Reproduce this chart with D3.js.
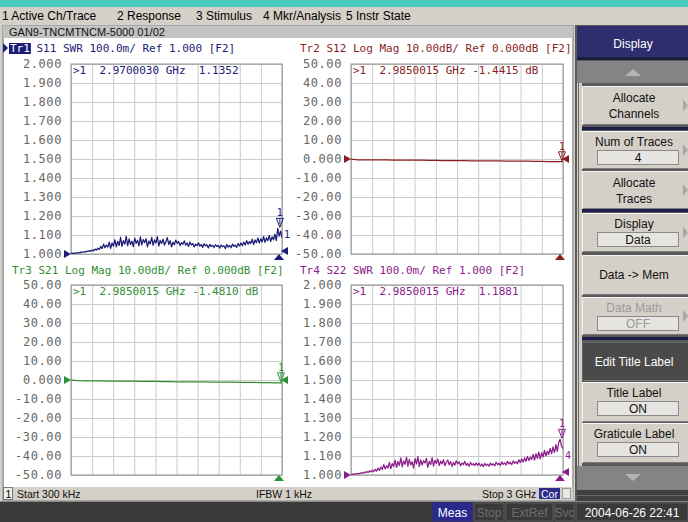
<!DOCTYPE html>
<html>
<head>
<meta charset="utf-8">
<script src="https://cdn.jsdelivr.net/npm/d3@7"></script>
<style>
	html, body { margin: 0; padding: 0; background: #d4d0c8; overflow: hidden; }
	svg { display: block; }
</style>
</head>
<body>
<div id="chart"></div>
<script>
// ---- data ----
let startHz		= 300e3;
let stopHz		= 3e9;

let menuItems	= ['1 Active Ch/Trace', '2 Response', '3 Stimulus', '4 Mkr/Analysis', '5 Instr State'];
let windowTitle	= 'GAN9-TNCMTNCM-5000 01/02';

let traceNames	= ['Tr1', 'Tr2', 'Tr3', 'Tr4'];
let traceHeads	= [' S11 SWR 100.0m/ Ref 1.000 [F2]', ' S12 Log Mag 10.00dB/ Ref 0.000dB [F2]', ' S21 Log Mag 10.00dB/ Ref 0.000dB [F2]', ' S22 SWR 100.0m/ Ref 1.000 [F2]'];
let markerHz	= [2.9700030e9, 2.9850015e9, 2.9850015e9, 2.9850015e9];
let markerVals	= [1.1352, -1.4415, -1.4810, 1.1881];
let markerText	= ['>1  2.9700030 GHz  1.1352', '>1  2.9850015 GHz -1.4415 dB', '>1  2.9850015 GHz -1.4810 dB', '>1  2.9850015 GHz  1.1881'];

let swrTicks		= [2.0, 1.9, 1.8, 1.7, 1.6, 1.5, 1.4, 1.3, 1.2, 1.1, 1.0];
let swrTickLabels	= ['2.000', '1.900', '1.800', '1.700', '1.600', '1.500', '1.400', '1.300', '1.200', '1.100', '1.000'];
let dbTicks			= [50, 40, 30, 20, 10, 0, -10, -20, -30, -40, -50];
let dbTickLabels	= ['50.00', '40.00', '30.00', '20.00', '10.00', '0.000', '-10.00', '-20.00', '-30.00', '-40.00', '-50.00'];

let s11Swr = [
	1.003, 1.004, 1.002, 1.006, 1.005, 1.008, 1.006, 1.010, 1.009, 1.012, 1.010, 1.015, 1.013, 1.018, 1.014,
	1.022, 1.017, 1.026, 1.020, 1.031, 1.024, 1.040, 1.028, 1.052, 1.033, 1.047, 1.036, 1.062, 1.030, 1.058,
	1.041, 1.075, 1.038, 1.066, 1.045, 1.088, 1.040, 1.070, 1.052, 1.093, 1.044, 1.079, 1.050, 1.067, 1.039,
	1.084, 1.056, 1.072, 1.043, 1.090, 1.048, 1.076, 1.060, 1.081, 1.037, 1.069, 1.053, 1.087, 1.045, 1.074,
	1.058, 1.091, 1.042, 1.071, 1.055, 1.078, 1.047, 1.064, 1.086, 1.051, 1.070, 1.038, 1.062, 1.049, 1.073,
	1.056, 1.066, 1.044, 1.060, 1.051, 1.069, 1.046, 1.058, 1.040, 1.063, 1.048, 1.055, 1.037, 1.052, 1.044,
	1.059, 1.041, 1.050, 1.035, 1.054, 1.043, 1.048, 1.032, 1.051, 1.039, 1.046, 1.034, 1.049, 1.040, 1.044,
	1.031, 1.047, 1.038, 1.043, 1.029, 1.050, 1.036, 1.045, 1.033, 1.052, 1.040, 1.047, 1.035, 1.055, 1.042,
	1.058, 1.044, 1.063, 1.047, 1.070, 1.051, 1.066, 1.055, 1.078, 1.050, 1.074, 1.060, 1.085, 1.057, 1.080,
	1.064, 1.092, 1.061, 1.085, 1.070, 1.098, 1.066, 1.090, 1.075, 1.104, 1.071, 1.135, 1.094, 1.120, 1.085
];
let s22Swr = [
	1.002, 1.004, 1.003, 1.007, 1.005, 1.009, 1.006, 1.012, 1.008, 1.015, 1.011, 1.019, 1.013, 1.022, 1.016,
	1.026, 1.018, 1.030, 1.021, 1.036, 1.024, 1.042, 1.029, 1.055, 1.032, 1.048, 1.037, 1.066, 1.034, 1.060,
	1.045, 1.078, 1.040, 1.071, 1.050, 1.090, 1.043, 1.074, 1.056, 1.094, 1.047, 1.082, 1.053, 1.070, 1.036,
	1.086, 1.058, 1.097, 1.044, 1.080, 1.052, 1.075, 1.063, 1.088, 1.040, 1.072, 1.055, 1.092, 1.047, 1.077,
	1.061, 1.084, 1.050, 1.073, 1.058, 1.081, 1.049, 1.067, 1.079, 1.054, 1.071, 1.045, 1.066, 1.052, 1.075,
	1.058, 1.069, 1.048, 1.063, 1.055, 1.072, 1.050, 1.061, 1.046, 1.066, 1.053, 1.060, 1.049, 1.064, 1.051,
	1.062, 1.047, 1.058, 1.044, 1.061, 1.050, 1.057, 1.046, 1.063, 1.052, 1.059, 1.048, 1.067, 1.054, 1.062,
	1.050, 1.069, 1.056, 1.064, 1.053, 1.072, 1.058, 1.067, 1.055, 1.074, 1.061, 1.070, 1.059, 1.080, 1.066,
	1.084, 1.068, 1.090, 1.072, 1.098, 1.076, 1.094, 1.082, 1.108, 1.079, 1.112, 1.088, 1.121, 1.085, 1.117,
	1.095, 1.130, 1.100, 1.125, 1.108, 1.140, 1.112, 1.148, 1.118, 1.160, 1.125, 1.172, 1.188, 1.150, 1.140
];
let s12Db = [
	-0.10, -0.40, -0.45, -0.48, -0.50, -0.52, -0.55, -0.57, -0.60, -0.62, -0.64, -0.66, -0.72, -0.85, -0.88, -0.90,
	-0.92, -0.95, -0.97, -1.00, -1.02, -1.05, -1.08, -1.10, -1.14, -1.18, -1.22, -1.28, -1.35, -1.44, -1.40
];
let s21Db = [
	-0.05, -0.38, -0.44, -0.47, -0.50, -0.53, -0.55, -0.58, -0.61, -0.63, -0.66, -0.68, -0.70, -0.88, -0.91, -0.93,
	-0.95, -0.98, -1.00, -1.03, -1.06, -1.09, -1.12, -1.15, -1.19, -1.23, -1.28, -1.33, -1.40, -1.48, -1.45
];

let softkeyLabels	= [['Allocate', 'Channels'], ['Num of Traces'], ['Allocate', 'Traces'], ['Display'], ['Data -> Mem'], ['Data Math'], ['Edit Title Label'], ['Title Label'], ['Graticule Label']];
let softkeyValues	= [null, '4', null, 'Data', null, 'OFF', null, 'ON', 'ON'];
let chanStatus		= ['Start 300 kHz', 'IFBW 1 kHz', 'Stop 3 GHz'];
let instrStatus		= ['Meas', 'Stop', 'ExtRef', 'Svc', '2004-06-26 22:41'];

// ---- look ----
let uiFont		= '"Liberation Sans", Arial, sans-serif';
let monoFont	= '"DejaVu Sans Mono", monospace';
let colors		= ['#1c1c78', '#8a1e1e', '#2f8f33', '#8c1c8c'];
let charW		= 6.62;

let svg = d3.select('#chart').append('svg')
	.attr('width', 688)
	.attr('height', 522);

// frame
svg.append('rect').attr('width', 688).attr('height', 522).attr('fill', '#d4d0c8');
svg.append('rect').attr('width', 688).attr('height', 7).attr('fill', '#4ac8c0');

let menuX = [2, 117, 196, 263, 346];
svg.append('g').selectAll('text').data(menuItems).enter().append('text')
	.attr('x', (d, i) => menuX[i])
	.attr('y', 20)
	.style('font', '12px ' + uiFont)
	.attr('fill', '#000')
	.text(d => d);

// channel window
svg.append('rect').attr('x', 2).attr('y', 25).attr('width', 572).attr('height', 476).attr('fill', '#a8a8a8');
svg.append('rect').attr('x', 3).attr('y', 26).attr('width', 570).attr('height', 12).attr('fill', '#c2c2c2');
svg.append('text').attr('x', 9).attr('y', 35.5)
	.style('font', '11px ' + uiFont).attr('fill', '#111').text(windowTitle);
svg.append('rect').attr('x', 4).attr('y', 38).attr('width', 568).attr('height', 449).attr('fill', '#fff');

// ---- trace panes ----
let panes = [
	{ x0: 71,  x1: 282, y0: 64,  y1: 254, hx: 10,  hy: 52,  domain: [1, 2],    ticks: swrTicks, labels: swrTickLabels, data: s11Swr, ref: 1, tag: '1' },
	{ x0: 351, x1: 563, y0: 64,  y1: 254, hx: 300, hy: 52,  domain: [-50, 50], ticks: dbTicks,  labels: dbTickLabels,  data: s12Db,  ref: 0 },
	{ x0: 71,  x1: 282, y0: 285, y1: 475, hx: 12,  hy: 274, domain: [-50, 50], ticks: dbTicks,  labels: dbTickLabels,  data: s21Db,  ref: 0 },
	{ x0: 351, x1: 563, y0: 285, y1: 475, hx: 300, hy: 274, domain: [1, 2],    ticks: swrTicks, labels: swrTickLabels, data: s22Swr, ref: 1, tag: '4' }
];

let defs = svg.append('defs');

panes.forEach((p, k) => {
	let col	= colors[k];
	let w	= p.x1 - p.x0;
	let h	= p.y1 - p.y0;
	let n	= p.data.length;

	let x = d3.scaleLinear().domain([startHz, stopHz]).range([p.x0, p.x1]);
	let y = d3.scaleLinear().domain(p.domain).range([p.y1, p.y0]);
	let sweep = (i) => startHz + i * (stopHz - startHz) / (n - 1);

	let g = svg.append('g').attr('class', 'pane');

	// graticule
	let xGrid = d3.range(11).map(i => startHz + i * (stopHz - startHz) / 10);
	g.append('g')
		.attr('transform', 'translate(0,' + p.y1 + ')')
		.call(d3.axisBottom(x).tickValues(xGrid).tickSize(-h).tickFormat(''))
		.call(a => a.select('.domain').remove())
		.call(a => a.selectAll('line').attr('stroke', '#cbcbcb'));

	g.append('g')
		.attr('transform', 'translate(' + p.x0 + ',0)')
		.call(d3.axisLeft(y).tickValues(p.ticks).tickSize(-w).tickPadding(9).tickFormat((d, i) => p.labels[i]))
		.call(a => a.select('.domain').remove())
		.call(a => a.selectAll('line').attr('stroke', '#cbcbcb'))
		.call(a => a.selectAll('text')
			.attr('fill', '#666')
			.style('font', '12px ' + monoFont)
			.style('letter-spacing', '0.6px'));

	g.append('rect')
		.attr('x', p.x0).attr('y', p.y0)
		.attr('width', w).attr('height', h)
		.attr('fill', 'none').attr('stroke', '#8e8e8e');

	// header
	if (k === 0) {
		g.append('rect')
			.attr('x', p.hx - 1).attr('y', p.hy - 9)
			.attr('width', charW * 3 + 2).attr('height', 11)
			.attr('fill', '#1c1c78');
		g.append('path')
			.attr('d', 'M' + (p.hx - 7) + ',' + (p.hy - 9) + 'L' + (p.hx - 2) + ',' + (p.hy - 4) + 'L' + (p.hx - 7) + ',' + (p.hy + 1) + 'Z')
			.attr('fill', '#1c1c78');
	}
	let head = g.append('text')
		.attr('x', p.hx).attr('y', p.hy)
		.style('font', '11px ' + monoFont)
		.attr('fill', col);
	head.append('tspan').attr('fill', k === 0 ? '#fff' : col).text(traceNames[k]);
	head.append('tspan').text(traceHeads[k]);

	// marker readout
	g.append('text')
		.attr('x', p.x0 + 2).attr('y', p.y0 + 10)
		.style('font', '11px ' + monoFont)
		.style('white-space', 'pre')
		.attr('fill', col)
		.text(markerText[k]);

	// trace
	defs.append('clipPath').attr('id', 'clip' + k)
		.append('rect').attr('x', p.x0).attr('y', p.y0).attr('width', w).attr('height', h);

	let line = d3.line()
		.x((d, i) => x(sweep(i)))
		.y(d => y(d));

	g.append('path')
		.datum(p.data)
		.attr('clip-path', 'url(#clip' + k + ')')
		.attr('d', line)
		.attr('fill', 'none')
		.attr('stroke', col)
		.attr('stroke-width', 1.25)
		.attr('stroke-linejoin', 'round');

	// reference arrow (left)
	let ry = y(p.ref);
	g.append('path')
		.attr('d', 'M' + (p.x0 - 7) + ',' + (ry - 4) + 'L' + p.x0 + ',' + ry + 'L' + (p.x0 - 7) + ',' + (ry + 4) + 'Z')
		.attr('fill', col);

	// right edge arrow
	let ey = p.ref === 0 ? ry : p.y1 - 3;
	g.append('path')
		.attr('d', 'M' + (p.x1 - 1) + ',' + ey + 'L' + (p.x1 + 6) + ',' + (ey - 4) + 'L' + (p.x1 + 6) + ',' + (ey + 4) + 'Z')
		.attr('fill', col);

	// stop marker below graticule
	g.append('path')
		.attr('d', 'M' + (p.x1 - 3) + ',' + p.y1 + 'L' + (p.x1 + 2) + ',' + (p.y1 + 6) + 'L' + (p.x1 - 8) + ',' + (p.y1 + 6) + 'Z')
		.attr('fill', col);

	if (p.tag) {
		g.append('text')
			.attr('x', p.x1 + 2).attr('y', p.y1 - 16)
			.style('font', '10px ' + monoFont)
			.attr('fill', col)
			.text(p.tag);
	}

	// marker 1
	let mx = x(markerHz[k]);
	let my = y(markerVals[k]);
	g.append('path')
		.attr('d', 'M' + (mx - 3.5) + ',' + (my - 10) + 'L' + (mx + 3.5) + ',' + (my - 10) + 'L' + mx + ',' + (my - 1) + 'Z M' + mx + ',' + (my - 10) + 'L' + mx + ',' + (my - 4))
		.attr('fill', 'none')
		.attr('stroke', col)
		.attr('stroke-width', 1);
	g.append('text')
		.attr('x', mx).attr('y', my - 12)
		.attr('text-anchor', 'middle')
		.style('font', '10px ' + monoFont)
		.attr('fill', col)
		.text('1');
});

// ---- channel status row ----
let st = svg.append('g');
st.append('rect').attr('x', 3).attr('y', 487).attr('width', 570).attr('height', 13).attr('fill', '#d4d0c8');
st.append('rect').attr('x', 3.5).attr('y', 487.5).attr('width', 9).attr('height', 12).attr('fill', '#eee').attr('stroke', '#777');
st.append('text').attr('x', 5.5).attr('y', 497.5).style('font', '10.5px ' + uiFont).text('1');
let chanX = [17, 256, 482];
st.selectAll('text.cs').data(chanStatus).enter().append('text')
	.attr('class', 'cs')
	.attr('x', (d, i) => chanX[i]).attr('y', 497.5)
	.style('font', '10.5px ' + uiFont)
	.attr('fill', '#111')
	.text(d => d);
st.append('rect').attr('x', 539).attr('y', 488).attr('width', 21).attr('height', 11).attr('fill', '#2c2c8c');
st.append('text').attr('x', 549.5).attr('y', 497.5).attr('text-anchor', 'middle')
	.style('font', '10.5px ' + uiFont).attr('fill', '#fff').text('Cor');
st.append('rect').attr('x', 562.5).attr('y', 488.5).attr('width', 8).attr('height', 10).attr('fill', '#e8e8e8').attr('stroke', '#999');

// ---- instrument status bar ----
let sb = svg.append('g');
sb.append('rect').attr('x', 0).attr('y', 501).attr('width', 688).attr('height', 21).attr('fill', '#3a3a3a');
sb.append('rect').attr('x', 0).attr('y', 501).attr('width', 688).attr('height', 1).attr('fill', '#888');
let sbBox = [[433, 39], [474, 30], [506, 47], [555, 19], [576, 112]];
sb.selectAll('rect.box').data(instrStatus).enter().append('rect')
	.attr('class', 'box')
	.attr('x', (d, i) => sbBox[i][0]).attr('y', 503)
	.attr('width', (d, i) => sbBox[i][1]).attr('height', 18)
	.attr('fill', (d, i) => i === 0 ? '#2a2a8e' : '#3a3a3a')
	.attr('stroke', (d, i) => i === 0 ? '#2a2a8e' : '#5a5a5a');
sb.selectAll('text').data(instrStatus).enter().append('text')
	.attr('x', (d, i) => sbBox[i][0] + sbBox[i][1] / 2).attr('y', 516.5)
	.attr('text-anchor', 'middle')
	.style('font', '12px ' + uiFont)
	.attr('fill', (d, i) => (i === 0 || i === 4) ? '#fff' : '#6e6e6e')
	.text(d => d);

// ---- softkey panel ----
let sk = svg.append('g');
sk.append('rect').attr('x', 575).attr('y', 25).attr('width', 113).attr('height', 476).attr('fill', '#5a5a5a');
sk.append('rect').attr('x', 577).attr('y', 26).attr('width', 111).attr('height', 31).attr('fill', '#2e2e6e');
sk.append('text').attr('x', 633).attr('y', 48).attr('text-anchor', 'middle')
	.style('font', '12px ' + uiFont).attr('fill', '#fff').text('Display');
sk.append('rect').attr('x', 577).attr('y', 57).attr('width', 111).attr('height', 3).attr('fill', '#1c1c3c');

// scroll arrows
sk.append('rect').attr('x', 577).attr('y', 61).attr('width', 111).attr('height', 22).attr('fill', '#848484');
sk.append('path').attr('d', 'M625,76L633,69L641,76Z').attr('fill', '#b4b4b4');
sk.append('rect').attr('x', 577).attr('y', 466).attr('width', 111).attr('height', 24).attr('fill', '#848484');
sk.append('path').attr('d', 'M625,474L641,474L633,481Z').attr('fill', '#b4b4b4');
sk.append('rect').attr('x', 577).attr('y', 490).attr('width', 111).attr('height', 11).attr('fill', '#404040');
sk.append('rect').attr('x', 577).attr('y', 495).attr('width', 111).attr('height', 1).attr('fill', '#6a6a6a');

// scroll rail
sk.append('rect').attr('x', 577).attr('y', 83).attr('width', 5).attr('height', 383).attr('fill', '#d4d0c8');
sk.append('rect').attr('x', 578).attr('y', 83).attr('width', 1).attr('height', 383).attr('fill', '#6a6a6a');

let keyTop	= [86, 131, 171, 213, 255, 297, 342, 382, 423];
let keyH	= [39, 38, 38, 39, 40, 38, 39, 40, 40];
let keyArrow	= [true, true, true, true, false, true, false, false, false];
let sepY	= [127, 209, 337];

sepY.forEach(s => sk.append('rect').attr('x', 582).attr('y', s).attr('width', 106).attr('height', 3).attr('fill', '#1e1e4e'));

softkeyLabels.forEach((lines, i) => {
	let top		= keyTop[i];
	let h		= keyH[i];
	let dark	= i === 6;
	let off		= i === 5;
	let kg		= sk.append('g');

	kg.append('rect').attr('x', 582).attr('y', top).attr('width', 106).attr('height', h)
		.attr('fill', dark ? '#4a4a4a' : '#d4d0c8');
	kg.append('path').attr('d', 'M582.5,' + (top + h - 0.5) + 'V' + (top + 0.5) + 'H688')
		.attr('fill', 'none').attr('stroke', dark ? '#666' : '#f4f4f4');
	kg.append('path').attr('d', 'M583,' + (top + h - 0.5) + 'H688')
		.attr('fill', 'none').attr('stroke', '#7a7a7a');

	let tc = dark ? '#fff' : (off ? '#9a9a9a' : '#111');
	if (softkeyValues[i] !== null) {
		kg.append('text').attr('x', 634).attr('y', top + 15).attr('text-anchor', 'middle')
			.style('font', '12px ' + uiFont).attr('fill', tc).text(lines[0]);
		kg.append('rect').attr('x', 597.5).attr('y', top + 19.5).attr('width', 81).attr('height', 14)
			.attr('fill', '#e6e4e0').attr('stroke', '#8a8a8a');
		kg.append('text').attr('x', 638).attr('y', top + 31).attr('text-anchor', 'middle')
			.style('font', '12px ' + uiFont).attr('fill', tc).text(softkeyValues[i]);
	} else if (lines.length === 2) {
		kg.append('text').attr('x', 634).attr('y', top + 16).attr('text-anchor', 'middle')
			.style('font', '12px ' + uiFont).attr('fill', tc).text(lines[0]);
		kg.append('text').attr('x', 634).attr('y', top + 32).attr('text-anchor', 'middle')
			.style('font', '12px ' + uiFont).attr('fill', tc).text(lines[1]);
	} else {
		kg.append('text').attr('x', 634).attr('y', top + h / 2 + 4).attr('text-anchor', 'middle')
			.style('font', '12px ' + uiFont).attr('fill', tc).text(lines[0]);
	}

	if (keyArrow[i]) {
		kg.append('path').attr('d', 'M683,' + (top + h / 2 - 6) + 'L688,' + (top + h / 2) + 'L683,' + (top + h / 2 + 6) + 'Z')
			.attr('fill', '#a8a8a8');
	}
});
</script>
</body>
</html>
